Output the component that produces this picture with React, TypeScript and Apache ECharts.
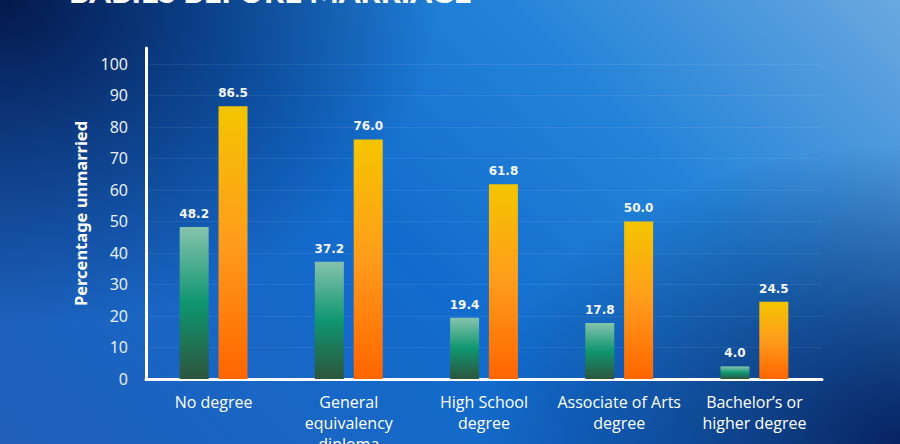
import React, { useEffect, useRef } from "react";
import * as echarts from "echarts";

// Education level of mothers and share of births outside marriage
const categories = [
  "No degree",
  "General\nequivalency\ndiploma",
  "High School\ndegree",
  "Associate of Arts\ndegree",
  "Bachelor\u2019s or\nhigher degree",
];
const seriesA = [48.2, 37.2, 19.4, 17.8, 4.0];
const seriesB = [86.5, 76.0, 61.8, 50.0, 24.5];
const yTicks = [0, 10, 20, 30, 40, 50, 60, 70, 80, 90, 100];

const TITLE = "BABIES BEFORE MARRIAGE";
const Y_NAME = "Percentage unmarried";

export default function App() {
  const ref = useRef<HTMLDivElement>(null);

  useEffect(() => {
    if (!ref.current) return;
    const chart = echarts.init(ref.current, null, { renderer: "svg" });

    const greenGrad = new echarts.graphic.LinearGradient(0, 0, 0, 1, [
      { offset: 0, color: "#86c3ad" },
      { offset: 0.5, color: "#0f9670" },
      { offset: 1, color: "#2d553d" },
    ]);
    const orangeGrad = new echarts.graphic.LinearGradient(0, 0, 0, 1, [
      { offset: 0, color: "#f4c500" },
      { offset: 0.5, color: "#ff9c1c" },
      { offset: 1, color: "#ff6500" },
    ]);

    const labelStyle = {
      show: true,
      position: "top" as const,
      distance: 7,
      color: "#f4f6fb",
      fontSize: 12,
      fontWeight: "bold" as const,
      fontFamily: "DejaVu Sans",
      formatter: (p: any) => Number(p.value).toFixed(1),
    };

    const splitColors = yTicks.map(() => "rgba(255,255,255,0.07)");
    splitColors.push("rgba(255,255,255,0)");

    chart.setOption({
      animation: false,
      backgroundColor: "transparent",
      grid: {
        left: 146,
        right: 78,
        top: 48,
        bottom: 65,
        outerBoundsMode: "none",
        containLabel: false,
      },
      graphic: [
        {
          type: "text",
          x: 69,
          y: -25,
          style: {
            text: TITLE,
            fill: "#ffffff",
            fontSize: 31,
            fontWeight: 900,
            fontFamily: "Lato",
            verticalAlign: "top",
          },
        },
      ],
      xAxis: {
        type: "category",
        data: categories,
        axisLine: { lineStyle: { color: "#ffffff", width: 3 } },
        axisTick: { show: false },
        axisLabel: {
          color: "#ffffff",
          fontSize: 16,
          fontFamily: "Open Sans",
          lineHeight: 21,
          margin: 12,
          interval: 0,
        },
      },
      yAxis: {
        type: "value",
        min: 0,
        max: 105,
        interval: 10,
        name: Y_NAME,
        nameLocation: "middle",
        nameGap: 57,
        nameTextStyle: {
          color: "#ffffff",
          fontSize: 16.5,
          fontWeight: "bold",
          fontFamily: "Noto Sans",
        },
        axisLine: { show: true, lineStyle: { color: "#ffffff", width: 3 } },
        axisTick: { show: false },
        axisLabel: {
          color: "#e6edf8",
          fontSize: 16,
          fontFamily: "Noto Sans",
          margin: 18,
          formatter: (v: number) => (v > 100 ? "" : String(v)),
        },
        splitLine: {
          show: true,
          lineStyle: { color: splitColors, width: 1 },
        },
      },
      series: [
        {
          type: "bar",
          data: seriesA,
          barWidth: 29,
          barGap: "34%",
          itemStyle: { color: greenGrad },
          label: labelStyle,
        },
        {
          type: "bar",
          data: seriesB,
          barWidth: 29,
          barGap: "34%",
          itemStyle: { color: orangeGrad },
          label: labelStyle,
        },
      ],
    });

    return () => chart.dispose();
  }, []);

  return (
    <div
      style={{
        position: "fixed",
        left: 0,
        top: 0,
        width: 900,
        height: 444,
        overflow: "hidden",
        background:
          "radial-gradient(ellipse 440px 330px at 0% 0%, rgba(4,22,72,0.97), rgba(4,22,72,0) 100%)," +
          "radial-gradient(ellipse 420px 300px at 100% 100%, rgba(6,30,90,0.95), rgba(6,30,90,0) 100%)," +
          "linear-gradient(45deg, #205fba 0%, #126ccd 45%, #2383d8 70%, #6aa8e0 100%)",
      }}
    >
      <div ref={ref} style={{ width: 900, height: 444 }} />
    </div>
  );
}
